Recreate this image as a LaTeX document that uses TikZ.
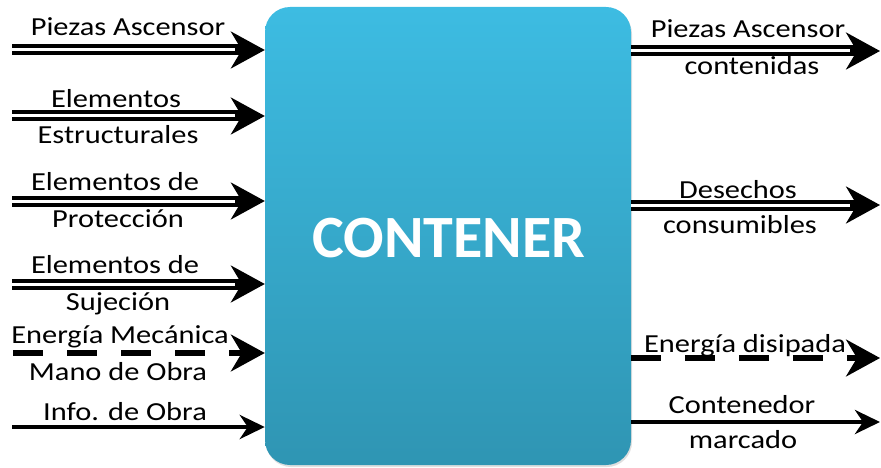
\documentclass[tikz,border=0pt]{standalone}
\usepackage{fontspec}
\setmainfont{Carlito}
\newfontfamily\lblfont[FakeStretch=1.17]{Carlito}
\usetikzlibrary{arrows.meta,shadows}

\definecolor{boxtop}{HTML}{3DBCE2}
\definecolor{boxbot}{HTML}{2F95B3}

\begin{document}
\begin{tikzpicture}[x=1pt,y=-1pt,
    box/.style={rounded corners=25pt,top color=boxtop,bottom color=boxbot,
        minimum width=366pt,minimum height=458pt,inner sep=0pt,
        drop shadow={opacity=0.25,shadow xshift=1pt,shadow yshift=-2pt}},
    title/.style={anchor=base,text=white,font=\fontsize{60}{60}\selectfont\bfseries},
    lbl/.style={anchor=base,font=\lblfont\fontsize{26}{26}\selectfont},
    dbl/.style={line width=4pt,double distance=3pt},
    solid flow/.style={line width=4.5pt},
    dsh/.style={line width=6.5pt,dash pattern=on 30pt off 24pt},
    bigtip/.style={line width=4pt,-{Stealth[length=34pt,width=37pt,inset=11pt]}},
    smalltip/.style={line width=4.5pt,-{Stealth[length=25pt,width=24pt,inset=8pt]}}]
    \useasboundingbox (0,0) rectangle (881,468);

    \node[box] (cont) at (448,236) {};
    \node[title] (tit) at (449,257) {CONTENER};

    % entradas
    \foreach \y [count=\i] in {50,116,201,284} {
        \coordinate (in\i) at (12,\y);
        \draw[dbl] (in\i) -- ([xshift=-24pt]cont.west |- in\i);
        \draw[bigtip] ([xshift=-30pt]cont.west |- in\i) -- (cont.west |- in\i);
    }
    \coordinate (in5) at (13,353);
    \draw[dsh] (in5) -- ([xshift=-24pt]cont.west |- in5);
    \draw[bigtip] ([xshift=-30pt]cont.west |- in5) -- (cont.west |- in5);
    \coordinate (in6) at (12,427);
    \draw[solid flow] (in6) -- ([xshift=-16pt]cont.west |- in6);
    \draw[smalltip] ([xshift=-20pt]cont.west |- in6) -- (cont.west |- in6);

    % salidas
    \foreach \y [count=\i] in {51,205} {
        \coordinate (out\i) at (880,\y);
        \draw[dbl] (cont.east |- out\i) -- ([xshift=-24pt]out\i);
        \draw[bigtip] ([xshift=-30pt]out\i) -- (out\i);
    }
    \coordinate (out3) at (880,358);
    \draw[dsh] (cont.east |- out3) -- ([xshift=-24pt]out3);
    \draw[bigtip] ([xshift=-30pt]out3) -- (out3);
    \coordinate (out4) at (880,422);
    \draw[solid flow] (cont.east |- out4) -- ([xshift=-16pt]out4);
    \draw[smalltip] ([xshift=-20pt]out4) -- (out4);

    % etiquetas
    \node[lbl] (in1a) at (128,36) {Piezas Ascensor};
    \node[lbl] (in2a) at (116,108) {Elementos};
    \node[lbl] (in2b) at (118,143) {Estructurales};
    \node[lbl] (in3a) at (115,190) {Elementos de};
    \node[lbl] (in3b) at (118,227) {Protección};
    \node[lbl] (in4a) at (115,273) {Elementos de};
    \node[lbl] (in4b) at (118,310) {Sujeción};
    \node[lbl] (in5a) at (120,343) {Energía Mecánica};
    \node[lbl] (in5b) at (118,380) {Mano de Obra};
    \node[lbl] (in6a) at (125,420) {Info. de Obra};
    \node[lbl] (out1a) at (748,38) {Piezas Ascensor};
    \node[lbl] (out1b) at (752,75) {contenidas};
    \node[lbl] (out2a) at (738,198) {Desechos};
    \node[lbl] (out2b) at (740,233) {consumibles};
    \node[lbl] (out3a) at (745,352) {Energía disipada};
    \node[lbl] (out4a) at (742,413) {Contenedor};
    \node[lbl] (out4b) at (743,448) {marcado};
\end{tikzpicture}
\end{document}
